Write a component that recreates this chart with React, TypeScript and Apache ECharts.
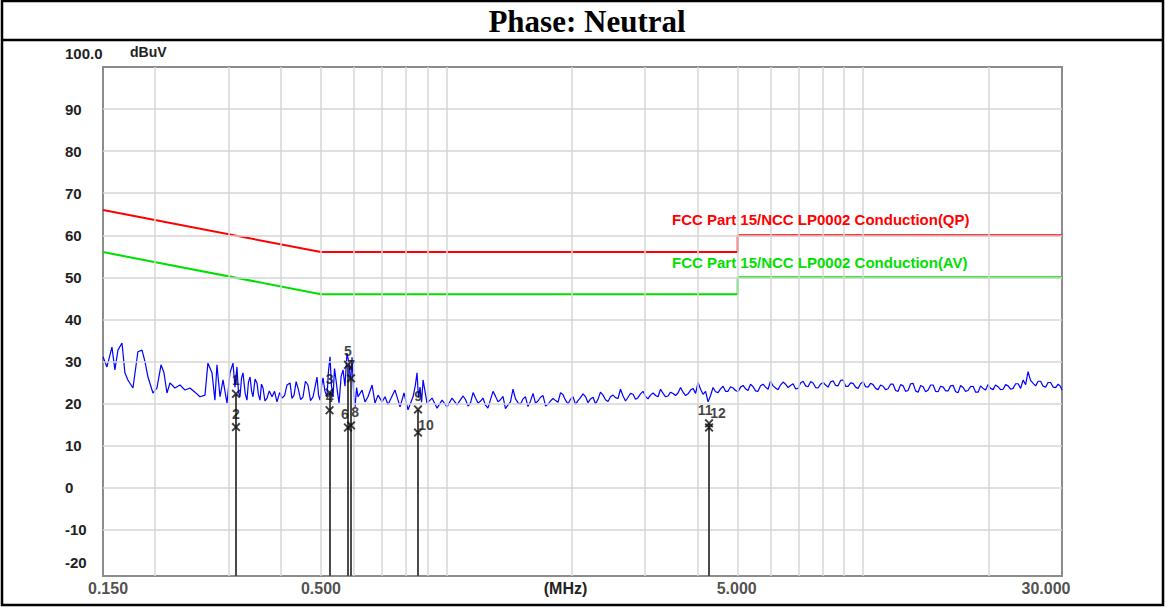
import React, { useEffect, useRef } from 'react';
import * as echarts from 'echarts';

// ---------- data ----------
const titleText = 'Phase: Neutral';
const yUnit = 'dBuV';
const xUnit = '(MHz)';

const yMin = -21;
const yMax = 100;
const yTicks = [100, 90, 80, 70, 60, 50, 40, 30, 20, 10, 0, -10, -20];
const yGridValues = [90, 80, 70, 60, 50, 40, 30, 20, 10, 0, -10];

const xMin = 0.15;
const xMax = 30;
const xTicks = [0.15, 0.5, 5, 30];
const xTickLabels = ['0.150', '0.500', '5.000', '30.000'];
const xGridValues = [0.2, 0.3, 0.4, 0.5, 0.6, 0.7, 0.8, 0.9, 1, 2, 3, 4, 5, 6, 7, 8, 9, 10, 20];

const qpName = 'FCC Part 15/NCC LP0002 Conduction(QP)';
const qpFreq = [0.15, 0.5, 5, 5, 30];
const qpLevel = [66, 56, 56, 60, 60];

const avName = 'FCC Part 15/NCC LP0002 Conduction(AV)';
const avFreq = [0.15, 0.5, 5, 5, 30];
const avLevel = [56, 46, 46, 50, 50];

// measured trace [MHz, dBuV]
const trace: [number, number][] = [
  [0.150, 31.1], [0.1533, 28.7], [0.1576, 33.4], [0.1602, 28.0], [0.1629, 32.7], [0.1666, 34.4], [0.1693, 27.3],
  [0.1721, 25.6], [0.1770, 23.7], [0.1819, 32.3], [0.1861, 32.7], [0.1892, 29.9], [0.1923, 26.3], [0.1977, 22.5],
  [0.2021, 23.7], [0.2067, 29.2], [0.2101, 27.3], [0.2136, 22.5], [0.2172, 24.9], [0.2232, 23.7], [0.2296, 24.4],
  [0.2360, 23.2], [0.2425, 23.7], [0.2493, 22.7], [0.2563, 21.6], [0.2635, 22.0], [0.2678, 29.6], [0.2739, 27.3],
  [0.2784, 20.8], [0.2815, 29.2], [0.2863, 21.6], [0.2911, 25.6], [0.2976, 20.1], [0.3025, 27.3], [0.3076, 29.6],
  [0.3110, 23.9], [0.3144, 28.7], [0.3170, 22.8], [0.3198, 21.6], [0.3225, 26.1], [0.3251, 27.3], [0.3290, 22.4],
  [0.3323, 20.8], [0.3350, 25.1], [0.3380, 26.3], [0.3410, 22.9], [0.3436, 21.6], [0.3475, 25.8], [0.3512, 24.9],
  [0.3540, 22.1], [0.3571, 20.8], [0.3600, 24.6], [0.3631, 23.7], [0.3670, 20.6], [0.3712, 21.3], [0.3760, 23.0],
  [0.3816, 21.6], [0.3870, 22.9], [0.3922, 20.4], [0.3980, 22.6], [0.4033, 21.3], [0.4090, 21.9], [0.4145, 24.4],
  [0.4216, 24.9], [0.4260, 21.2], [0.4310, 22.0], [0.4360, 25.2], [0.4405, 23.7], [0.4470, 20.9], [0.4529, 21.6],
  [0.4590, 25.3], [0.4655, 24.4], [0.4720, 20.7], [0.4787, 21.6], [0.4840, 23.9], [0.4893, 26.3], [0.4935, 22.0],
  [0.4976, 20.8], [0.5020, 24.3], [0.5059, 26.1], [0.5110, 23.0], [0.5171, 21.6], [0.5210, 27.4], [0.5258, 31.1],
  [0.5300, 24.2], [0.5346, 21.6], [0.5390, 28.3], [0.5435, 25.6], [0.5480, 22.6], [0.5527, 20.1], [0.5590, 26.4],
  [0.5650, 28.0], [0.5710, 24.1], [0.5775, 32.0], [0.5839, 29.6], [0.5890, 24.6], [0.5938, 31.0], [0.5990, 22.7],
  [0.6037, 19.2], [0.6090, 23.8], [0.6137, 21.6], [0.6275, 23.2], [0.6379, 20.4], [0.6485, 21.6], [0.6633, 24.4],
  [0.6742, 20.1], [0.6854, 22.0], [0.7009, 20.4], [0.7126, 21.6], [0.7244, 19.7], [0.7326, 20.8], [0.7530, 23.2],
  [0.7742, 19.2], [0.7914, 22.5], [0.8090, 18.5], [0.8318, 21.6], [0.8420, 24.2], [0.8503, 27.3], [0.8570, 21.4],
  [0.8647, 23.9], [0.8720, 20.3], [0.8791, 25.6], [0.8986, 20.1], [0.9240, 21.3], [0.9497, 18.9], [0.9764, 20.8],
  [1.0036, 19.2], [1.0319, 21.3], [1.0606, 19.7],
  [1.097, 21.8], [1.112, 20.9], [1.127, 19.4], [1.143, 20.2], [1.159, 22.6], [1.175, 21.3], [1.191, 20.1],
  [1.208, 20.6], [1.224, 21.3], [1.241, 19.6], [1.258, 18.9], [1.275, 20.8], [1.294, 22.9], [1.312, 21.7],
  [1.330, 20.4], [1.348, 20.9], [1.367, 21.7], [1.386, 18.8], [1.405, 19.6], [1.425, 20.4], [1.445, 23.4],
  [1.465, 21.1], [1.485, 20.2], [1.506, 19.8], [1.527, 21.1], [1.548, 21.6], [1.569, 19.3], [1.591, 20.5],
  [1.614, 22.4], [1.636, 20.1], [1.659, 20.6], [1.682, 21.5], [1.706, 21.9], [1.730, 19.4], [1.753, 19.8],
  [1.777, 20.6], [1.803, 21.2], [1.828, 20.7], [1.853, 20.3], [1.879, 22.6], [1.905, 22.1], [1.931, 20.8],
  [1.958, 19.9], [1.985, 21.0], [2.013, 21.6], [2.041, 19.8], [2.069, 20.7], [2.098, 21.4], [2.128, 22.3],
  [2.158, 21.6], [2.187, 20.2], [2.217, 21.1], [2.249, 21.5], [2.280, 19.9], [2.311, 21.0], [2.343, 22.7],
  [2.376, 22.0], [2.409, 20.9], [2.442, 20.5], [2.476, 21.6], [2.511, 22.0], [2.546, 21.4], [2.581, 21.2],
  [2.617, 23.4], [2.654, 21.8], [2.691, 20.6], [2.728, 21.5], [2.766, 22.4], [2.805, 22.2], [2.844, 21.0],
  [2.883, 21.4], [2.923, 22.3], [2.964, 22.9], [3.005, 21.7], [3.046, 21.1], [3.088, 22.0], [3.133, 22.5],
  [3.177, 21.9], [3.220, 21.6], [3.265, 23.4], [3.311, 22.4], [3.357, 21.6], [3.403, 21.8], [3.450, 22.7],
  [3.499, 22.4], [3.548, 21.9], [3.596, 22.5], [3.646, 23.8], [3.698, 22.7], [3.749, 21.9], [3.801, 22.3],
  [3.854, 23.2], [3.908, 23.6], [3.962, 22.4], [4.017, 25.0], [4.073, 23.4], [4.130, 22.2], [4.187, 22.9],
  [4.245, 20.4], [4.304, 21.9], [4.364, 23.8], [4.425, 22.8], [4.486, 22.6], [4.548, 23.5], [4.612, 24.1],
  [4.676, 22.9], [4.740, 22.9], [4.806, 24.0], [4.874, 23.7], [4.942, 23.1], [5.010, 22.8], [5.080, 23.9],
  [5.151, 24.3], [5.223, 23.5], [5.294, 23.1], [5.368, 24.6], [5.444, 24.0], [5.520, 23.0], [5.595, 22.9],
  [5.673, 24.2], [5.753, 24.6], [5.833, 23.9], [5.913, 23.4], [5.995, 25.3], [6.080, 24.2], [6.165, 23.7],
  [6.249, 23.3], [6.336, 24.4], [6.425, 25.1], [6.514, 24.6], [6.604, 23.8], [6.696, 24.3], [6.790, 24.7],
  [6.884, 23.5], [6.979, 23.6], [7.076, 24.9], [7.176, 25.3], [7.276, 24.2], [7.376, 24.0], [7.479, 25.2],
  [7.584, 24.9], [7.689, 23.8], [7.795, 23.7], [7.903, 24.6], [8.015, 25.0], [8.126, 24.4], [8.238, 23.9],
  [8.353, 25.1], [8.470, 25.4], [8.588, 24.3], [8.706, 24.2], [8.827, 25.5], [8.951, 25.6], [9.075, 24.1],
  [9.200, 24.1], [9.328, 24.9], [9.460, 24.8], [9.591, 23.9], [9.723, 23.6], [9.858, 24.7], [9.997, 25.2],
  [10.136, 24.0], [10.275, 23.9], [10.418, 24.8], [10.565, 24.5], [10.712, 23.6], [10.859, 23.3], [11.010, 24.4],
  [11.165, 24.1], [11.320, 23.3], [11.475, 23.5], [11.635, 24.6], [11.80, 24.6], [11.96, 23.1], [12.13, 22.9],
  [12.30, 24.5], [12.47, 24.2], [12.64, 22.9], [12.82, 23.1], [13.00, 24.7], [13.18, 24.8], [13.36, 23.0],
  [13.55, 22.7], [13.74, 24.3], [13.93, 24.0], [14.12, 22.8], [14.32, 23.2], [14.52, 24.4], [14.72, 24.4],
  [14.92, 22.9], [15.13, 22.8], [15.34, 24.1], [15.56, 23.9], [15.78, 23.0], [15.99, 23.0], [16.21, 24.2],
  [16.44, 24.3], [16.67, 22.8], [16.90, 22.6], [17.13, 24.3], [17.37, 23.8], [17.61, 22.9], [17.85, 23.1],
  [18.10, 24.0], [18.36, 24.1], [18.62, 22.7], [18.87, 22.7], [19.13, 24.2], [19.40, 23.6], [19.67, 23.2],
  [19.94, 24.5], [20.22, 23.6], [20.50, 23.3], [20.78, 24.4], [21.07, 24.0], [21.36, 23.3], [21.67, 23.4],
  [21.97, 24.5], [22.27, 24.2], [22.58, 23.4], [22.90, 23.6], [23.22, 24.7], [23.54, 24.7], [23.87, 23.6],
  [24.20, 25.6], [24.54, 24.5], [24.87, 27.6], [25.22, 25.5], [25.58, 24.8], [25.94, 24.2], [26.29, 25.3],
  [26.66, 25.3], [27.03, 24.1], [27.41, 23.9], [27.78, 25.0], [28.17, 25.0], [28.57, 23.9], [28.97, 23.8],
  [29.36, 24.6], [29.68, 24.2], [30.0, 23.2],
];

// markers
const markerNo = ['1', '2', '3', '4', '5', '6', '7', '8', '9', '10', '11', '12'];
const markerFreq = [0.3127, 0.3127, 0.5244, 0.5244, 0.5807, 0.5807, 0.5905, 0.5905, 0.855, 0.855, 4.268, 4.268];
const markerLevel = [22.3, 14.4, 22.6, 18.4, 29.2, 14.3, 26.0, 14.8, 18.6, 13.1, 15.3, 14.3];

// ---------- component ----------
const FONT = '"Liberation Sans", Arial, sans-serif';

export default function App() {
  const ref = useRef<HTMLDivElement>(null);

  useEffect(() => {
    document.body.style.margin = '0';
    const chart = echarts.init(ref.current!, undefined, { renderer: 'svg' });

    const gridLines = [
      ...yGridValues.map((v) => ({ yAxis: v })),
      ...xGridValues.map((v) => ({ xAxis: v })),
    ];

    const markerLines = markerFreq
      .map((f, i) => ({ f, i }))
      .filter((d) => d.i % 2 === 0)
      .map((d) => [
        { coord: [d.f, Math.max(markerLevel[d.i], markerLevel[d.i + 1])] },
        { coord: [d.f, yMin] },
      ]);

    const markerLabelOffsets: Record<string, number[]> = {
      '6': [-3, 0],
      '8': [4, 0],
      '10': [8, 6],
      '11': [-4, 0],
      '12': [9, -1],
    };

    const option: any = {
      animation: false,
      backgroundColor: '#ffffff',
      grid: {
        left: 103,
        top: 67,
        right: 104,
        bottom: 31,
        show: true,
        borderColor: '#8c8c8c',
        borderWidth: 2,
        containLabel: false,
        outerBoundsMode: 'none',
      },
      xAxis: {
        type: 'log',
        logBase: 10,
        min: xMin,
        max: xMax,
        axisLine: { show: false },
        axisTick: { show: false },
        axisLabel: { show: false },
        splitLine: { show: false },
        name: xUnit,
        nameLocation: 'middle',
        nameGap: 4,
        nameTextStyle: {
          fontFamily: FONT,
          fontWeight: 'bold',
          fontSize: 16,
          color: '#222',
          verticalAlign: 'top',
          padding: [0, 34, 0, 0],
        },
      },
      yAxis: {
        type: 'value',
        min: yMin,
        max: yMax,
        axisLine: { show: false },
        axisTick: { show: false },
        splitLine: { show: false },
        axisLabel: {
          customValues: yTicks,
          align: 'left',
          margin: 38,
          formatter: (v: number) =>
            v === 100 ? '{top|100.0}' : v === -20 ? '{bot|-20}' : '{n|' + v + '}',
          rich: {
            n: { fontFamily: FONT, fontWeight: 'bold', fontSize: 15, color: '#222' },
            top: { fontFamily: FONT, fontWeight: 'bold', fontSize: 15, color: '#222', padding: [0, 0, 28, 0] },
            bot: { fontFamily: FONT, fontWeight: 'bold', fontSize: 15, color: '#222', padding: [0, 0, 18, 0] },
          },
        },
      },
      series: [
        {
          name: 'grid',
          type: 'line',
          data: [],
          z: 1,
          silent: true,
          markLine: {
            silent: true,
            symbol: 'none',
            label: { show: false },
            lineStyle: { color: '#d6d6d6', width: 1.5, type: 'solid' },
            data: gridLines,
          },
        },
        {
          name: qpName,
          type: 'line',
          data: qpFreq.map((f, i) => [f, qpLevel[i]]),
          symbol: 'none',
          z: 3,
          lineStyle: { color: '#ff0000', width: 2 },
        },
        {
          name: avName,
          type: 'line',
          data: avFreq.map((f, i) => [f, avLevel[i]]),
          symbol: 'none',
          z: 3,
          lineStyle: { color: '#00e000', width: 2 },
        },
        {
          name: 'trace',
          type: 'line',
          data: trace,
          symbol: 'none',
          z: 4,
          lineStyle: { color: '#0000ff', width: 1.2 },
        },
        {
          name: 'markers',
          type: 'scatter',
          z: 5,
          clip: false,
          symbol:
            'path://M0,1.5L1.5,0L5,3.5L8.5,0L10,1.5L6.5,5L10,8.5L8.5,10L5,6.5L1.5,10L0,8.5L3.5,5Z',
          symbolSize: 9,
          itemStyle: { color: '#111' },
          data: markerFreq.map((f, i) => ({
            value: [f, markerLevel[i]],
            label: {
              show: true,
              position: 'top',
              distance: 2,
              offset: markerLabelOffsets[markerNo[i]] || [0, 0],
              formatter: markerNo[i],
              fontFamily: FONT,
              fontWeight: 'bold',
              fontSize: 14,
              color: '#111',
            },
          })),
          markLine: {
            silent: true,
            symbol: 'none',
            label: { show: false },
            lineStyle: { color: '#4a4a4a', width: 2, type: 'solid' },
            data: markerLines,
          },
        },
        {
          name: 'xlabels',
          type: 'scatter',
          z: 5,
          clip: false,
          symbolSize: 0,
          silent: true,
          data: xTicks.map((v, i) => ({
            value: [v, yMin],
            label: {
              show: true,
              position: 'bottom',
              distance: 4,
              offset: [[5, 0], [0, 0], [-1, 0], [-16, 0]][i],
              formatter: xTickLabels[i],
              fontFamily: FONT,
              fontWeight: 'bold',
              fontSize: 16,
              color: '#222',
            },
          })),
        },
      ],
      graphic: [
        {
          type: 'rect',
          shape: { x: 2, y: 1, width: 1161, height: 604 },
          style: { fill: 'none', stroke: '#000', lineWidth: 2.5 },
          z: 10,
        },
        {
          type: 'line',
          shape: { x1: 2, y1: 40, x2: 1163, y2: 40 },
          style: { stroke: '#000', lineWidth: 2.5 },
          z: 10,
        },
        {
          type: 'text',
          x: 587,
          y: 21,
          style: {
            text: titleText,
            font: 'bold 31px "Liberation Serif", "Times New Roman", serif',
            fill: '#000',
            textAlign: 'center',
            textVerticalAlign: 'middle',
          },
          z: 10,
        },
        {
          type: 'text',
          x: 130,
          y: 52,
          style: {
            text: yUnit,
            font: 'bold 14px ' + FONT,
            fill: '#222',
            textAlign: 'left',
            textVerticalAlign: 'middle',
          },
        },
        {
          type: 'text',
          x: 672,
          y: 219,
          style: {
            text: qpName,
            font: 'bold 15px ' + FONT,
            fill: '#ff0000',
            textAlign: 'left',
            textVerticalAlign: 'middle',
          },
          z: 6,
        },
        {
          type: 'text',
          x: 672,
          y: 262,
          style: {
            text: avName,
            font: 'bold 15px ' + FONT,
            fill: '#00e000',
            textAlign: 'left',
            textVerticalAlign: 'middle',
          },
          z: 6,
        },
      ],
    };

    chart.setOption(option);
    return () => chart.dispose();
  }, []);

  return (
    <div
      ref={ref}
      style={{ position: 'absolute', left: 0, top: 0, width: 1166, height: 607 }}
    />
  );
}
